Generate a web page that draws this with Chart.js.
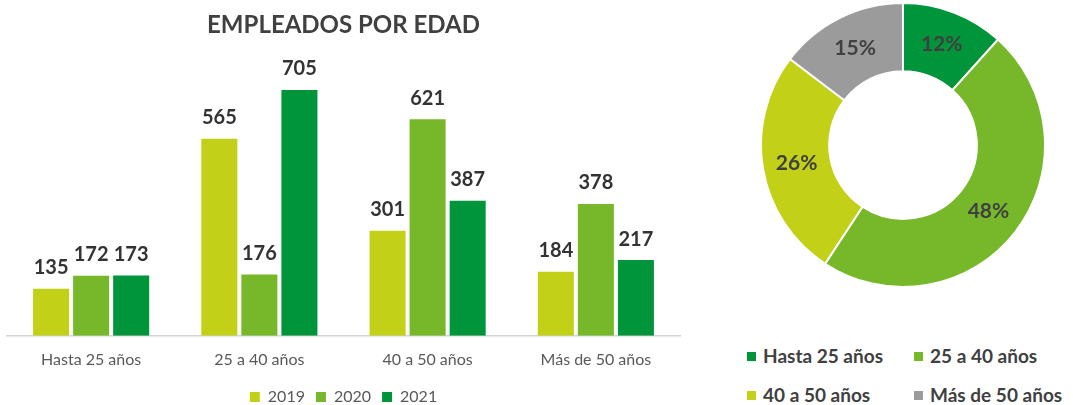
<!DOCTYPE html>
<html>
<head>
<meta charset="utf-8">
<script src="https://cdn.jsdelivr.net/npm/chart.js"></script>
<style>
    body { margin: 0; background: #fff; width: 1073px; height: 405px; overflow: hidden; position: relative; font-family: Lato, sans-serif; }
    #barChart { position: absolute; left: 0; top: 0; }
    #donutChart { position: absolute; left: 760px; top: 2px; }
    #donutLegend { position: absolute; left: 747px; top: 344px; width: 326px; }
    .item { position: absolute; font: bold 19px Lato, sans-serif; color: #404040; white-space: nowrap; line-height: 24px; }
    .item span { display: inline-block; width: 9px; height: 9px; margin-right: 7px; vertical-align: 2px; }
</style>
</head>
<body>
<canvas id="barChart" width="700" height="405"></canvas>
<canvas id="donutChart" width="286" height="286"></canvas>
<div id="donutLegend"></div>

<script>
    const categories = ['Hasta 25 años', '25 a 40 años', '40 a 50 años', 'Más de 50 años'];
    const years = ['2019', '2020', '2021'];
    const values2019 = [135, 565, 301, 184];
    const values2020 = [172, 176, 621, 378];
    const values2021 = [173, 705, 387, 217];
    const yearColors = ['#C2D118', '#76B82A', '#00953A'];
    const donutColors = ['#00953A', '#76B82A', '#C2D118', '#9B9B9B'];

    // etiquetas encima de las barras
    const barLabels = {
        id: 'barLabels',
        afterDatasetsDraw(chart) {
            const ctx = chart.ctx;
            ctx.save();
            ctx.font = 'bold 20px Lato, sans-serif';
            ctx.fillStyle = '#333333';
            ctx.textAlign = 'center';
            ctx.textBaseline = 'middle';
            chart.data.datasets.forEach((ds, i) => {
                chart.getDatasetMeta(i).data.forEach((bar, j) => {
                    ctx.fillText(ds.data[j], bar.x, bar.y - 21);
                });
            });
            ctx.restore();
        }
    };

    // porcentajes dentro del anillo
    const donutLabels = {
        id: 'donutLabels',
        afterDatasetsDraw(chart) {
            const ctx = chart.ctx;
            const data = chart.data.datasets[0].data;
            const total = data.reduce((a, b) => a + b, 0);
            ctx.save();
            ctx.font = 'bold 21px Lato, sans-serif';
            ctx.fillStyle = '#404040';
            ctx.textAlign = 'center';
            ctx.textBaseline = 'middle';
            chart.getDatasetMeta(0).data.forEach((arc, i) => {
                const p = arc.tooltipPosition();
                ctx.fillText(Math.round(data[i] / total * 100) + '%', p.x, p.y);
            });
            ctx.restore();
        }
    };

    new Chart(document.getElementById('barChart'), {
        type: 'bar',
        data: {
            labels: categories,
            datasets: [values2019, values2020, values2021].map((vals, i) => ({
                label: years[i],
                data: vals,
                backgroundColor: yearColors[i],
                barPercentage: 0.9,
                categoryPercentage: 0.714
            }))
        },
        plugins: [barLabels],
        options: {
            responsive: false,
            animation: false,
            devicePixelRatio: 1,
            layout: { padding: { left: 7, right: 20, top: 0, bottom: -10 } },
            plugins: {
                tooltip: { enabled: false },
                title: {
                    display: true,
                    text: 'EMPLEADOS POR EDAD',
                    color: '#404040',
                    font: { family: 'Lato', size: 24, weight: 'bold' },
                    padding: { top: 11, bottom: 17 }
                },
                legend: {
                    position: 'bottom',
                    labels: {
                        boxWidth: 10,
                        boxHeight: 10,
                        padding: 11,
                        color: '#595959',
                        font: { family: 'Lato', size: 16 }
                    }
                }
            },
            scales: {
                x: {
                    grid: { display: false, drawTicks: false },
                    border: { display: true, color: '#D4D4D4', width: 1.5 },
                    ticks: { color: '#595959', padding: 14, font: { family: 'Lato', size: 16 } },
                    afterFit(scale) { scale.height -= 5; }
                },
                y: {
                    display: false,
                    min: 0,
                    max: 800
                }
            }
        }
    });

    new Chart(document.getElementById('donutChart'), {
        type: 'doughnut',
        data: {
            labels: categories,
            datasets: [{
                data: values2021,
                backgroundColor: donutColors,
                borderColor: '#ffffff',
                borderWidth: 2
            }]
        },
        plugins: [donutLabels],
        options: {
            responsive: false,
            animation: false,
            devicePixelRatio: 1,
            cutout: '52%',
            plugins: {
                legend: { display: false },
                tooltip: { enabled: false }
            }
        }
    });

    // leyenda del anillo en dos columnas
    const legendBox = document.getElementById('donutLegend');
    categories.forEach((c, i) => {
        const div = document.createElement('div');
        div.className = 'item';
        div.style.left = (i % 2 === 0 ? 0 : 167) + 'px';
        div.style.top = (Math.floor(i / 2) * 39) + 'px';
        div.innerHTML = '<span style="background:' + donutColors[i] + '"></span>' + c;
        legendBox.appendChild(div);
    });
</script>
</body>
</html>
